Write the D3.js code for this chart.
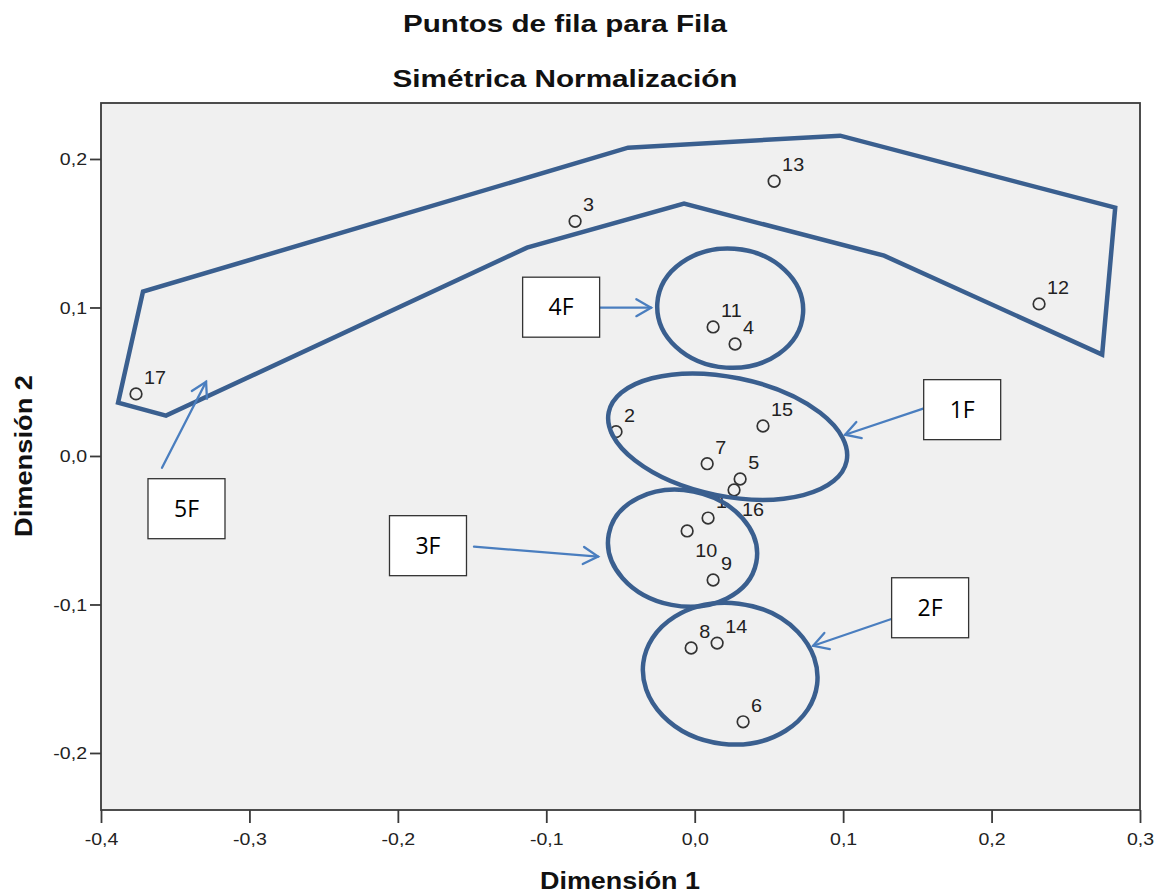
<!DOCTYPE html>
<html>
<head>
<meta charset="utf-8">
<script src="https://cdn.jsdelivr.net/npm/d3@7"></script>
<style>
  body { margin: 0; background: #fff; }
  svg { display: block; }
</style>
</head>
<body>
<svg id="chart"></svg>
<script>
// row points (symmetric normalisation)
const pointIds = ["1", "2", "3", "4", "5", "6", "7", "8", "9", "10", "11", "12", "13", "14", "15", "16", "17"];
const dim1 = [0.009, -0.053, -0.0806, 0.0272, 0.0306, 0.0326, 0.0084, -0.0024, 0.0124, -0.0051, 0.0124, 0.232, 0.0535, 0.0151, 0.046, 0.0265, -0.3764];
const dim2 = [-0.0418, 0.0164, 0.158, 0.0754, -0.0155, -0.179, -0.0052, -0.1293, -0.0835, -0.0505, 0.0869, 0.1024, 0.185, -0.126, 0.0202, -0.0229, 0.0418];
const labelSide = ["ne", "ne", "ne", "ne", "ne", "ne", "ne", "ne", "ne", "se", "ne", "ne", "ne", "ne", "ne", "se", "ne"];

const xTicks = [-0.4, -0.3, -0.2, -0.1, 0.0, 0.1, 0.2, 0.3];
const yTicks = [-0.2, -0.1, 0.0, 0.1, 0.2];
const xDomain = [-0.4, 0.3];
const yDomain = [-0.2384, 0.2377];

// hand drawn annotations (data units)
const outline5F = [[-0.3885, 0.0359], [-0.3717, 0.1107], [-0.0449, 0.2076], [0.098, 0.2157], [0.2833, 0.1672],
  [0.2745, 0.0683], [0.1276, 0.1349], [-0.0072, 0.1699], [-0.113, 0.1403], [-0.3562, 0.0272]];
const ellipseNames = ["4F", "1F", "3F", "2F"];
const ellipseCx = [0.0239, 0.0222, -0.0082, 0.0239];
const ellipseCy = [0.0995, 0.013, -0.0621, -0.1466];
const ellipseRx = [0.0492, 0.0818, 0.0506, 0.059];
const ellipseRy = [0.0401, 0.04, 0.0389, 0.0475];
const ellipseTilt = [4, 11.6, 11, 7];

const tagNames = ["5F", "4F", "1F", "3F", "2F"];
const tagX = [-0.3424, -0.09, 0.1802, -0.1797, 0.1586];
const tagY = [-0.0355, 0.1002, 0.0312, -0.0604, -0.1022];
const arrowFrom = [[-0.3589, -0.0079], [-0.0644, 0.0999], [0.1539, 0.0319], [-0.1487, -0.0611], [0.133, -0.1096]];
const arrowTo = [[-0.3292, 0.05], [-0.0294, 0.0999], [0.1013, 0.0143], [-0.0651, -0.0678], [0.0798, -0.1278]];

const width = 1168, height = 895;
const margin = { top: 103, right: 28, bottom: 85, left: 101 };
const w = width - margin.left - margin.right;
const h = height - margin.top - margin.bottom;

const lineBlue = "#3a5f8f";
const arrowBlue = "#4a7ebf";
const sans = "'Liberation Sans', Arial, sans-serif";

const locale = d3.formatLocale({ decimal: ",", thousands: ".", grouping: [3], currency: ["", ""], minus: "-" });
const fmt = locale.format(".1f");

const svg = d3.select("#chart").attr("width", width).attr("height", height);

// titles
function stretchedText(parent, x, y, txt, size, weight, anchor, len) {
  const t = parent.append("text")
    .attr("x", x).attr("y", y)
    .attr("text-anchor", anchor)
    .attr("font-family", sans)
    .attr("font-size", size)
    .attr("font-weight", weight)
    .attr("fill", "#111")
    .text(txt);
  if (len) t.attr("textLength", len).attr("lengthAdjust", "spacingAndGlyphs");
  return t;
}
stretchedText(svg, 565, 32, "Puntos de fila para Fila", 24, "bold", "middle", 324);
stretchedText(svg, 565, 87, "Simétrica Normalización", 24, "bold", "middle", 345);
stretchedText(svg, 620, 889, "Dimensión 1", 24, "bold", "middle", 160);
stretchedText(svg, 0, 0, "Dimensión 2", 24, "bold", "middle", 162)
  .attr("transform", "translate(32,456) rotate(-90)");

const g = svg.append("g").attr("transform", `translate(${margin.left},${margin.top})`);

const x = d3.scaleLinear().domain(xDomain).range([0, w]);
const y = d3.scaleLinear().domain(yDomain).range([h, 0]);

g.append("rect").attr("width", w).attr("height", h).attr("fill", "#f0f0f0");

// axes
const xAxis = g.append("g")
  .attr("transform", `translate(0,${h})`)
  .call(d3.axisBottom(x).tickValues(xTicks).tickSize(13).tickPadding(10).tickFormat(fmt));
const yAxis = g.append("g")
  .call(d3.axisLeft(y).tickValues(yTicks).tickSize(11).tickPadding(3).tickFormat(fmt));
[xAxis, yAxis].forEach(a => {
  a.select(".domain").remove();
  a.selectAll(".tick line").attr("stroke", "#3a3a3a").attr("stroke-width", 1.8);
  a.selectAll(".tick text")
    .attr("font-family", sans)
    .attr("font-size", 17)
    .attr("fill", "#222");
});
xAxis.selectAll(".tick text").attr("transform", "scale(1.15,1)");
yAxis.selectAll(".tick text").attr("x", -14 / 1.15).attr("dy", "0.35em").attr("transform", "scale(1.15,1)");

// points
const pts = pointIds.map((id, i) => ({ id: id, d1: dim1[i], d2: dim2[i], side: labelSide[i] }));
g.selectAll("circle.pt")
  .data(pts).enter()
  .append("circle")
  .attr("class", "pt")
  .attr("cx", d => x(d.d1))
  .attr("cy", d => y(d.d2))
  .attr("r", 5.8)
  .attr("fill", "none")
  .attr("stroke", "#333")
  .attr("stroke-width", 1.7);
g.selectAll("text.lbl")
  .data(pts).enter()
  .append("text")
  .attr("class", "lbl")
  .attr("transform", d => `translate(${x(d.d1) + 8},${y(d.d2) + (d.side == "se" ? 26 : -10)}) scale(1.1,1)`)
  .attr("font-family", sans)
  .attr("font-size", 18)
  .attr("fill", "#222")
  .text(d => d.id);

// annotations: outline, ellipses
g.append("path")
  .attr("d", d3.line().x(d => x(d[0])).y(d => y(d[1])).curve(d3.curveLinearClosed)(outline5F))
  .attr("fill", "none")
  .attr("stroke", lineBlue)
  .attr("stroke-width", 4.5)
  .attr("stroke-linejoin", "miter");

g.selectAll("ellipse.grp")
  .data(ellipseNames).enter()
  .append("ellipse")
  .attr("class", "grp")
  .attr("transform", (d, i) => `translate(${x(ellipseCx[i])},${y(ellipseCy[i])}) rotate(${ellipseTilt[i]})`)
  .attr("rx", (d, i) => x(ellipseRx[i]) - x(0))
  .attr("ry", (d, i) => y(0) - y(ellipseRy[i]))
  .attr("fill", "none")
  .attr("stroke", lineBlue)
  .attr("stroke-width", 4.5);

// arrows
tagNames.forEach((name, i) => {
  const x0 = x(arrowFrom[i][0]), y0 = y(arrowFrom[i][1]);
  const x1 = x(arrowTo[i][0]), y1 = y(arrowTo[i][1]);
  const ang = Math.atan2(y1 - y0, x1 - x0);
  const len = 17, spread = Math.PI / 6;
  const head = [
    [x1 - len * Math.cos(ang - spread), y1 - len * Math.sin(ang - spread)],
    [x1, y1],
    [x1 - len * Math.cos(ang + spread), y1 - len * Math.sin(ang + spread)]
  ];
  const a = g.append("g")
    .attr("fill", "none")
    .attr("stroke", arrowBlue)
    .attr("stroke-width", 2.3)
    .attr("stroke-linecap", "round");
  a.append("path").attr("d", d3.line()([[x0, y0], [x1, y1]]));
  a.append("path").attr("d", d3.line()(head));
});

// label boxes
const boxW = 77, boxH = 60;
const tags = g.selectAll("g.tag")
  .data(tagNames).enter()
  .append("g")
  .attr("class", "tag")
  .attr("transform", (d, i) => `translate(${x(tagX[i])},${y(tagY[i])})`);
tags.append("rect")
  .attr("x", -boxW / 2).attr("y", -boxH / 2)
  .attr("width", boxW).attr("height", boxH)
  .attr("fill", "#fff")
  .attr("stroke", "#333")
  .attr("stroke-width", 1.3);
tags.append("text")
  .attr("text-anchor", "middle")
  .attr("dy", "0.36em")
  .attr("font-family", "'Open Sans', 'Noto Sans', sans-serif")
  .attr("font-size", 23)
  .attr("fill", "#000")
  .text(d => d);

// frame
g.append("rect")
  .attr("width", w).attr("height", h)
  .attr("fill", "none")
  .attr("stroke", "#3a3a3a")
  .attr("stroke-width", 1.8);
</script>
</body>
</html>
